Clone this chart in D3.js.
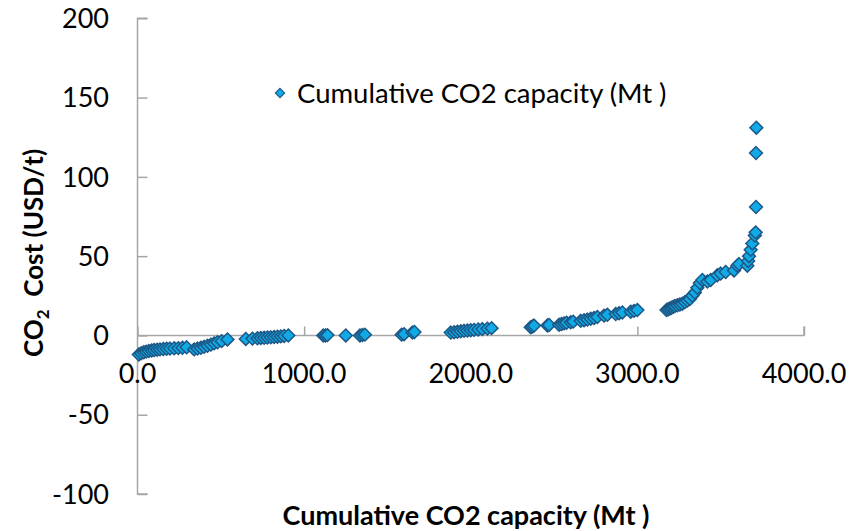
<!DOCTYPE html>
<html><head><meta charset="utf-8">
<script src="https://cdn.jsdelivr.net/npm/d3@7"></script>
<style>
html,body{margin:0;padding:0;background:#fff;}
text{font-family:Lato,"Open Sans",sans-serif;fill:#000;}
</style></head>
<body>
<svg id="chart" width="858" height="531"></svg>
<script>
// Cumulative CO2 capacity (Mt) and CO2 cost (USD/t)
const capacity = [
  8,22,38,52,68,85,100,118,135,155,175,195,220,245,270,295,
  340,360,380,400,420,440,460,480,505,540,
  650,690,720,740,760,780,800,820,840,860,880,905,
  1115,1128,1140,1250,1335,1350,1365,1585,1600,1650,1662,
  1880,1900,1920,1940,1960,1980,2000,2020,2045,2070,2100,2125,
  2360,2370,2380,
  2460,2470,2530,2545,2560,2575,2600,2615,2660,2680,2700,2720,2740,2760,2800,2820,2870,2890,2910,2960,2980,3000,
  3175,3185,3195,3205,3215,3225,3240,3255,3270,3285,3300,3315,3330,
  3345,3360,3375,3390,3420,3440,3480,3500,3530,3580,3600,3610,3660,3665,3670,3680,3690,3705,3710,3712,3712,3714
];
const cost = [
  -12,-11.2,-10.6,-10.2,-9.8,-9.5,-9.2,-9,-8.8,-8.6,-8.4,-8.3,-8.1,-8,-7.8,-7.5,
  -8.8,-8.3,-7.8,-7.2,-6.5,-5.8,-5,-4.3,-3.6,-2.5,
  -2.2,-2,-1.8,-1.6,-1.5,-1.3,-1.2,-1,-0.8,-0.6,-0.3,0,
  0,0,0.2,0,0,0.3,0.5,0.5,0.8,1.8,2.2,
  1.8,2,2.3,2.6,2.9,3.1,3.3,3.5,3.8,4,4.3,4.6,
  5.2,5.6,6.2,
  6.3,6.6,6.8,7.2,7.6,8,8.3,8.7,9.2,9.6,10,10.5,11,11.6,12.5,13,13.5,14,14.5,15,15.5,16,
  16,16.5,17,17.5,18,18.5,19,19.5,20,21,22,23,25,
  27,30,33,35,34,35,38,39,40,41,44,45,44,47,50,54,58,63,65,81,115,131
];
const xTicks = [0,1000,2000,3000,4000];
const yTicks = [-100,-50,0,50,100,150,200];
const seriesName = "Cumulative CO2 capacity (Mt )";
const xTitle = "Cumulative CO2 capacity (Mt )";

const data = capacity.map((c,i)=>({x:c,y:cost[i]}));
const svg = d3.select("#chart");
const x = d3.scaleLinear().domain([0,4000]).range([137.5,804]);
const y = d3.scaleLinear().domain([-100,200]).range([494,18.3]);
const axisColor = "#a6a6a6";

// Y axis (ticks pointing inward/right)
const yAxis = svg.append("g").attr("transform",`translate(${x(0)},0)`)
  .call(d3.axisRight(y).tickValues(yTicks).tickSize(10).tickFormat(""));
yAxis.select(".domain").attr("stroke",axisColor).attr("stroke-width",1.5)
  .attr("d",`M10,${y(200)}H0V${y(-100)}H10`);
yAxis.selectAll(".tick line").attr("stroke",axisColor).attr("stroke-width",1.5);
svg.append("g").selectAll("text").data(yTicks).join("text")
  .attr("x",109).attr("y",d=>y(d)).attr("dy","0.36em")
  .attr("text-anchor","end").style("font-size","27px").text(d=>d);

// X axis at y=0 (ticks pointing up)
const xAxis = svg.append("g").attr("transform",`translate(0,${y(0)})`)
  .call(d3.axisTop(x).tickValues(xTicks).tickSize(9).tickFormat(""));
xAxis.select(".domain").attr("stroke",axisColor).attr("stroke-width",1.5)
  .attr("d",`M${x(0)},0H${x(4000)}V-9`);
xAxis.selectAll(".tick line").attr("stroke",axisColor).attr("stroke-width",1.5);
svg.append("g").selectAll("text").data(xTicks).join("text")
  .attr("x",d=>x(d)).attr("y",y(0)+48)
  .attr("text-anchor","middle").style("font-size","27px").text(d=>d.toFixed(1));

// Points
const sym = d3.symbol().type(d3.symbolDiamond2).size(105);
svg.append("g").selectAll("path").data(data).join("path")
  .attr("d",sym)
  .attr("transform",d=>`translate(${x(d.x)},${y(d.y)})`)
  .attr("fill","#10abe6").attr("stroke","#1d5785").attr("stroke-width",1.5);

// Legend
svg.append("path").attr("d",d3.symbol().type(d3.symbolDiamond2).size(55))
  .attr("transform","translate(280,93)")
  .attr("fill","#10abe6").attr("stroke","#1d5785").attr("stroke-width",1.1);
svg.append("text").attr("x",297).attr("y",103).style("font-size","27.5px").text(seriesName);

// Axis titles
svg.append("text").attr("x",466).attr("y",525).attr("text-anchor","middle")
  .style("font-size","27px").style("font-weight","bold").text(xTitle);
const yt = svg.append("text").attr("transform","translate(43,253) rotate(-90)")
  .attr("text-anchor","middle").style("font-size","26px").style("font-weight","bold");
yt.append("tspan").text("CO");
yt.append("tspan").text("2").style("font-size","17px").attr("dy","6");
yt.append("tspan").text("  Cost (USD/t)").attr("dy","-6").style("white-space","pre");
</script>
</body></html>
